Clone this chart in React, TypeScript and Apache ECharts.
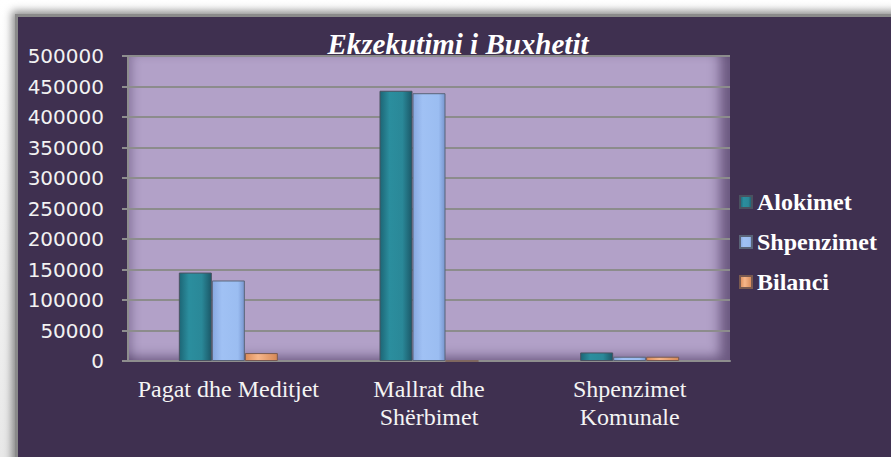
import React, { useEffect, useRef } from "react";
import * as echarts from "echarts";

const titleText = "Ekzekutimi i Buxhetit";
const categories = ["Pagat dhe Meditjet", "Mallrat dhe\nShërbimet", "Shpenzimet\nKomunale"];
const seriesNames = ["Alokimet", "Shpenzimet", "Bilanci"];
const alokimet = [145000, 443000, 14000];
const shpenzimet = [132000, 439000, 7000];
const bilanci = [13000, 0, 7000];
const yMin = 0;
const yMax = 500000;
const yInterval = 50000;

const SERIF = "'Liberation Serif', 'Times New Roman', serif";

const hGrad = (stops: [number, string][]) =>
  new echarts.graphic.LinearGradient(0, 0, 1, 0, stops.map(([offset, color]) => ({ offset, color })));

export default function App() {
  const ref = useRef<HTMLDivElement>(null);
  useEffect(() => {
    if (!ref.current) return;
    const chart = echarts.init(ref.current, undefined, { renderer: "svg" });
    const barBase = { type: "bar" as const, barWidth: 33, barGap: "0%" };
    chart.setOption({
      animation: false,
      backgroundColor: "transparent",
      graphic: [
        {
          type: "text",
          z: 10,
          style: {
            text: titleText,
            x: 458,
            y: 29,
            align: "center",
            verticalAlign: "top",
            font: "italic bold 29px 'Liberation Serif'",
            fill: "#ffffff",
          },
        },
      ],
      legend: {
        orient: "vertical",
        left: 734,
        top: 183,
        itemWidth: 12,
        itemHeight: 12,
        itemGap: 12,
        icon: "rect",
        textStyle: {
          fontFamily: SERIF,
          fontWeight: "bold",
          fontSize: 24,
          lineHeight: 28,
          color: "#ffffff",
        },
        data: seriesNames,
      },
      grid: { left: 128, top: 56, right: 161, bottom: 96 },
      xAxis: {
        type: "category",
        data: categories,
        axisLine: { show: true, lineStyle: { color: "#8e8e8e", width: 2 } },
        axisTick: { show: false },
        axisLabel: {
          margin: 14,
          fontFamily: SERIF,
          fontSize: 24,
          lineHeight: 28,
          color: "#f4f4f4",
          interval: 0,
        },
      },
      yAxis: {
        type: "value",
        min: yMin,
        max: yMax,
        interval: yInterval,
        axisLine: { show: true, lineStyle: { color: "#8e8e8e", width: 2 } },
        axisTick: { show: true, length: 6, lineStyle: { color: "#8e8e8e", width: 2 } },
        splitLine: { show: true, lineStyle: { color: "#8c8c8c", width: 2 } },
        axisLabel: {
          margin: 24,
          fontFamily: "'DejaVu Sans', sans-serif",
          fontSize: 20,
          color: "#f2f2f2",
          formatter: (v: number) => String(v),
        },
      },
      series: [
        {
          ...barBase,
          name: seriesNames[0],
          data: alokimet,
          itemStyle: {
            color: hGrad([
              [0, "#1d6676"],
              [0.3, "#2b8e9e"],
              [0.7, "#2a8898"],
              [1, "#1b5868"],
            ]),
            borderColor: "#4a5260",
            borderWidth: 1,
          },
        },
        {
          ...barBase,
          name: seriesNames[1],
          data: shpenzimet,
          itemStyle: {
            color: hGrad([
              [0, "#87a8e0"],
              [0.3, "#a0c1f4"],
              [0.8, "#9bbdf1"],
              [1, "#7896cf"],
            ]),
            borderColor: "#5a6478",
            borderWidth: 1,
          },
        },
        {
          ...barBase,
          name: seriesNames[2],
          data: bilanci,
          itemStyle: {
            color: hGrad([
              [0, "#dc8c58"],
              [0.4, "#f7b68a"],
              [1, "#d68856"],
            ]),
            borderColor: "#7a5a50",
            borderWidth: 1,
          },
        },
      ],
    });
    return () => chart.dispose();
  }, []);

  return (
    <div
      style={{
        position: "fixed",
        left: 0,
        top: 0,
        width: 891,
        height: 457,
        background: "linear-gradient(#ffffff, #e8e8e8)",
        overflow: "hidden",
      }}
    >
      <div
        style={{
          position: "absolute",
          left: 15,
          top: 14,
          width: 900,
          height: 460,
          background: "#3f3050",
          borderLeft: "3px solid #8a8a8a",
          borderTop: "3px solid #8a8a8a",
          boxShadow: "-3px -3px 8px rgba(0,0,0,0.45)",
        }}
      />
      <div
        style={{
          position: "absolute",
          left: 128,
          top: 56,
          width: 602,
          height: 305,
          background: "#b2a1c8",
          boxShadow:
            "inset -16px -10px 12px -6px rgba(50,30,70,0.55), inset 10px 4px 10px -6px rgba(60,40,80,0.35)",
        }}
      />
      <div ref={ref} style={{ position: "absolute", left: 0, top: 0, width: 891, height: 457 }} />
    </div>
  );
}
